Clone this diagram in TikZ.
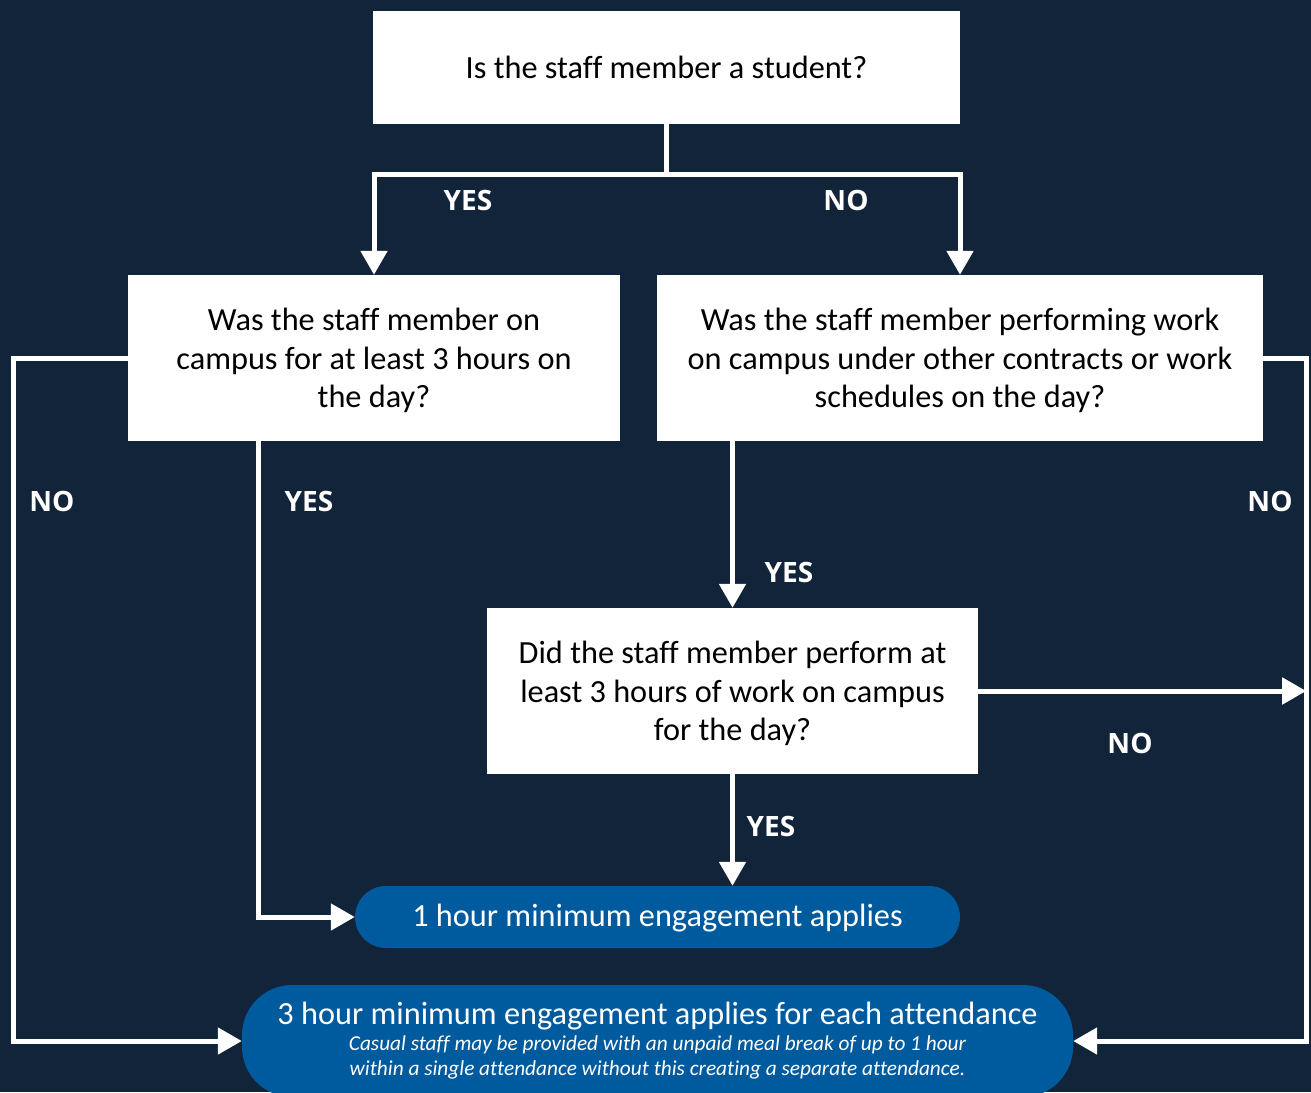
\documentclass[tikz,border=0pt]{standalone}
\usepackage{fontspec}
\setmainfont{Carlito}[Ligatures=CommonOff]
\newfontfamily\labelfont{Open Sans}
\usetikzlibrary{arrows.meta,positioning}
\definecolor{navy}{HTML}{12243A}
\definecolor{uniblue}{HTML}{005A9E}
\begin{document}
\begin{tikzpicture}[x=1pt, y=-1pt, >={Triangle[length=24pt, width=26pt]},
    question/.style = {fill=white, text=black, align=center, inner sep=0pt, font=\fontsize{32.3}{38.5}\selectfont},
    outcome/.style = {fill=uniblue, text=white, align=center, inner sep=0pt},
    answer/.style = {text=white, font=\labelfont\bfseries\fontsize{28}{32}\selectfont},
    flow/.style = {draw=white, line width=5pt}]
    \fill[navy] (0,0) rectangle (1311,1092);
    \useasboundingbox (0,0) rectangle (1311,1092);
    \node[question, minimum width=587pt, minimum height=113pt] (1) at (666.5,67.5) {Is the staff member a student?};
    \node[question, minimum width=492pt, minimum height=166pt, text depth=0pt] (2) at (374,358) {Was the staff member on\\campus for at least 3 hours on\\the day?};
    \node[question, minimum width=606pt, minimum height=166pt, text depth=0pt] (3) at (960,358) {Was the staff member performing work\\on campus under other contracts or work\\schedules on the day?};
    \node[question, minimum width=491pt, minimum height=166pt, text depth=0pt] (4) at (732.5,691) {Did the staff member perform at\\least 3 hours of work on campus\\for the day?};
    \node[outcome, minimum width=605pt, minimum height=62pt, rounded corners=31pt, font=\fontsize{32.3}{38.5}\selectfont, text depth=4pt] (5) at (657.5,917) {1 hour minimum engagement applies};
    \node[outcome, minimum width=831pt, minimum height=112pt, rounded corners=50pt, font=\fontsize{21.3}{25.5}\selectfont\itshape] (6) at (657.5,1041)
        {{\upshape\fontsize{32.3}{25}\selectfont 3 hour minimum engagement applies for each attendance}\\
         Casual staff may be provided with an unpaid meal break of up to 1 hour\\
         within a single attendance without this creating a separate attendance.};
    %Student?
    \draw[flow,->] (1.south) -- ++(0,50) -| (2.north);
    \draw[flow,->] (1.south) -- ++(0,50) -| (3.north);
    \node[answer] (y1) at (468,200) {YES};
    \node[answer] (n1) at (846,200) {NO};
    %On campus 3 hours?
    \draw[flow,->] (2.west) -- ++(-114,0) |- (6.west);
    \draw[flow,->] ([xshift=131pt]2.south west) |- (5.west);
    \node[answer] (n2) at (52,501) {NO};
    \node[answer] (y2) at (309,501) {YES};
    %Other contracts?
    \draw[flow,->] (4.north |- 3.south) -- (4.north);
    \draw[flow,->] (3.east) -- ++(43,0) coordinate (rail) |- (6.east);
    \node[answer] (y3) at (789,572) {YES};
    \node[answer] (n3) at (1270,501) {NO};
    %Worked 3 hours?
    \draw[flow,->] (4.east) -- (4.east -| rail);
    \draw[flow,->] (4.south) -- (4.south |- 5.north);
    \node[answer] (n4) at (1130,743) {NO};
    \node[answer] (y4) at (771,826) {YES};
\end{tikzpicture}
\end{document}
